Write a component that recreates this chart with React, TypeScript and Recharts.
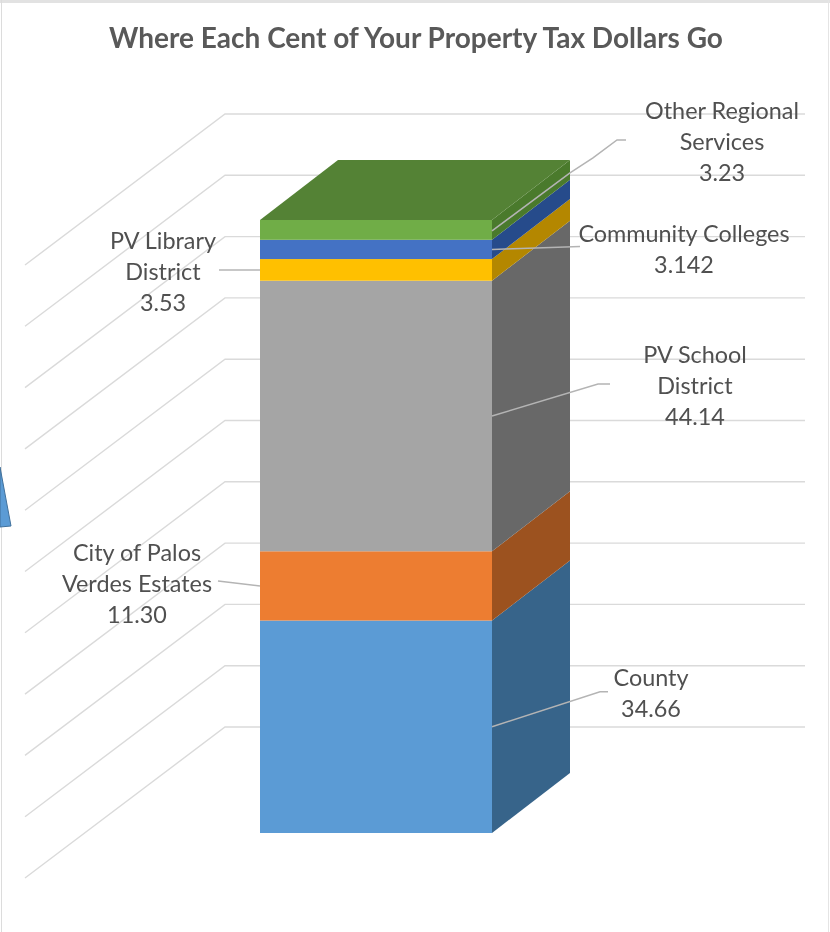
import React from "react";
import { BarChart, Bar, XAxis, YAxis, CartesianGrid, LabelList } from "recharts";

const TITLE = "Where Each Cent of Your Property Tax Dollars Go";
const CATEGORY = "Property Tax";
const SERIES_KEYS = ["County", "City", "School", "Library", "Colleges", "Other"];
const SERIES_VALUES = [34.66, 11.3, 44.14, 3.53, 3.142, 3.23];
const VALUE_TEXT = ["34.66", "11.30", "44.14", "3.53", "3.142", "3.23"];
const NAME_LINES = [
  ["County"],
  ["City of Palos", "Verdes Estates"],
  ["PV School", "District"],
  ["PV Library", "District"],
  ["Community Colleges"],
  ["Other Regional", "Services"],
];
const GRID_TICKS = [0, 10, 20, 30, 40, 50, 60, 70, 80, 90, 100];

const FRONT_COLORS = ["#5B9BD5", "#ED7D31", "#A5A5A5", "#FFC000", "#4472C4", "#70AD47"];
const SIDE_COLORS = ["#37648A", "#9C521F", "#686868", "#B48700", "#264B8B", "#4A7A2C"];
const TOP_COLOR = "#548235";

const W = 830;
const H = 932;
const DEPTH_X = 78;
const DEPTH_Y = -60;
const WALL = { left: 225, right: 805, up: 106, floorDx: -200, floorDy: 151 };
const TEXT = "#505050";
const GRID = "#DADADA";
const LEADER = "#B4B4B4";
const FONT = "Lato, 'Open Sans', sans-serif";

// label offsets relative to the segment's front edge and vertical middle
type Layout = { side: "left" | "right"; cx: number; firstDy: number; leader: number[][] };
const LAYOUT: Layout[] = [
  { side: "right", cx: 159, firstDy: -50, leader: [[0, 0], [108, -35], [116, -35]] },
  { side: "left", cx: -123, firstDy: -34, leader: [[0, 0], [-42, -5]] },
  { side: "right", cx: 203, firstDy: -62, leader: [[0, 0], [106, -32], [118, -32]] },
  { side: "left", cx: -97, firstDy: -30, leader: [[0, 0], [-41, 0]] },
  { side: "right", cx: 192, firstDy: -16, leader: [[0, 0], [88, -3]] },
  { side: "right", cx: 230, firstDy: -120, leader: [[0, 1], [78, -57], [101, -72], [125, -90], [134, -90]] },
];

const row: Record<string, string | number> = { name: CATEGORY };
SERIES_KEYS.forEach((k, i) => {
  row[k] = SERIES_VALUES[i];
});
const DATA = [row];

const makeShape = (i: number) => (p: any) => {
  const { x, y, width, height } = p;
  const r = x + width;
  const b = y + height;
  const isTop = i === SERIES_KEYS.length - 1;
  return (
    <g>
      <polygon
        points={`${r},${y} ${r + DEPTH_X},${y + DEPTH_Y} ${r + DEPTH_X},${b + DEPTH_Y} ${r},${b}`}
        fill={SIDE_COLORS[i]}
      />
      {isTop && (
        <polygon
          points={`${x},${y} ${x + DEPTH_X},${y + DEPTH_Y} ${r + DEPTH_X},${y + DEPTH_Y} ${r},${y}`}
          fill={TOP_COLOR}
        />
      )}
      <rect x={x} y={y} width={width} height={height} fill={FRONT_COLORS[i]} />
    </g>
  );
};

const makeLabel = (i: number) => (p: any) => {
  const vb = p.viewBox;
  const l = LAYOUT[i];
  const ax = l.side === "right" ? vb.x + vb.width : vb.x;
  const ay = vb.y + vb.height / 2;
  const lines = [...NAME_LINES[i], VALUE_TEXT[i]];
  return (
    <g>
      <polyline
        points={l.leader.map(([dx, dy]) => `${ax + dx},${ay + dy}`).join(" ")}
        fill="none"
        stroke={LEADER}
        strokeWidth={1.5}
      />
      {lines.map((t, j) => (
        <text
          key={j}
          x={ax + l.cx}
          y={ay + l.firstDy + j * 31}
          textAnchor="middle"
          dominantBaseline="central"
          fontFamily={FONT}
          fontSize={23.4}
          fill={TEXT}
        >
          {t}
        </text>
      ))}
    </g>
  );
};

const gridLine = (p: any) => {
  const y = p.y1 - WALL.up;
  return (
    <polyline
      key={p.index}
      points={`${WALL.left + WALL.floorDx},${y + WALL.floorDy} ${WALL.left},${y} ${WALL.right},${y}`}
      fill="none"
      stroke={GRID}
      strokeWidth={1.4}
    />
  );
};

export default function App() {
  return (
    <div style={{ position: "absolute", left: 0, top: 0, width: W, height: H, background: "#fff", overflow: "hidden", filter: "blur(0.45px)" }}>
      <div style={{ position: "absolute", left: 0, top: 0, width: W, height: 3, background: "#E2E2E2" }} />
      <div style={{ position: "absolute", left: 1, top: 0, width: 1, height: H, background: "#DCDCDC" }} />
      <div style={{ position: "absolute", left: 828, top: 0, width: 1, height: H, background: "#E4E4E4" }} />
      <div
        style={{
          position: "absolute",
          left: 1,
          top: 19,
          width: W,
          textAlign: "center",
          fontFamily: FONT,
          fontWeight: 700,
          fontSize: 28,
          lineHeight: "36px",
          color: "#595959",
        }}
      >
        {TITLE}
      </div>
      <svg style={{ position: "absolute", left: 0, top: 0 }} width={14} height={H}>
        <polygon points="0,467 11,526 0,527" fill="#5B9BD5" stroke="#41719C" strokeWidth={1} />
      </svg>
      <div style={{ position: "absolute", left: 0, top: 0 }}>
        <BarChart
          width={W}
          height={H}
          data={DATA}
          margin={{ top: 220, right: 338, bottom: 99, left: 260 }}
          barCategoryGap={0}
          style={{ overflow: "visible" }}
        >
          <CartesianGrid vertical={false} horizontal={gridLine} syncWithTicks ticks={GRID_TICKS as any} horizontalValues={GRID_TICKS} />
          <XAxis dataKey="name" hide />
          <YAxis type="number" domain={[0, 100]} ticks={GRID_TICKS} hide />
          {SERIES_KEYS.map((k, i) => (
            <Bar key={k} dataKey={k} stackId="tax" isAnimationActive={false} shape={makeShape(i)}>
              <LabelList dataKey={k} content={makeLabel(i)} />
            </Bar>
          ))}
        </BarChart>
      </div>
    </div>
  );
}
